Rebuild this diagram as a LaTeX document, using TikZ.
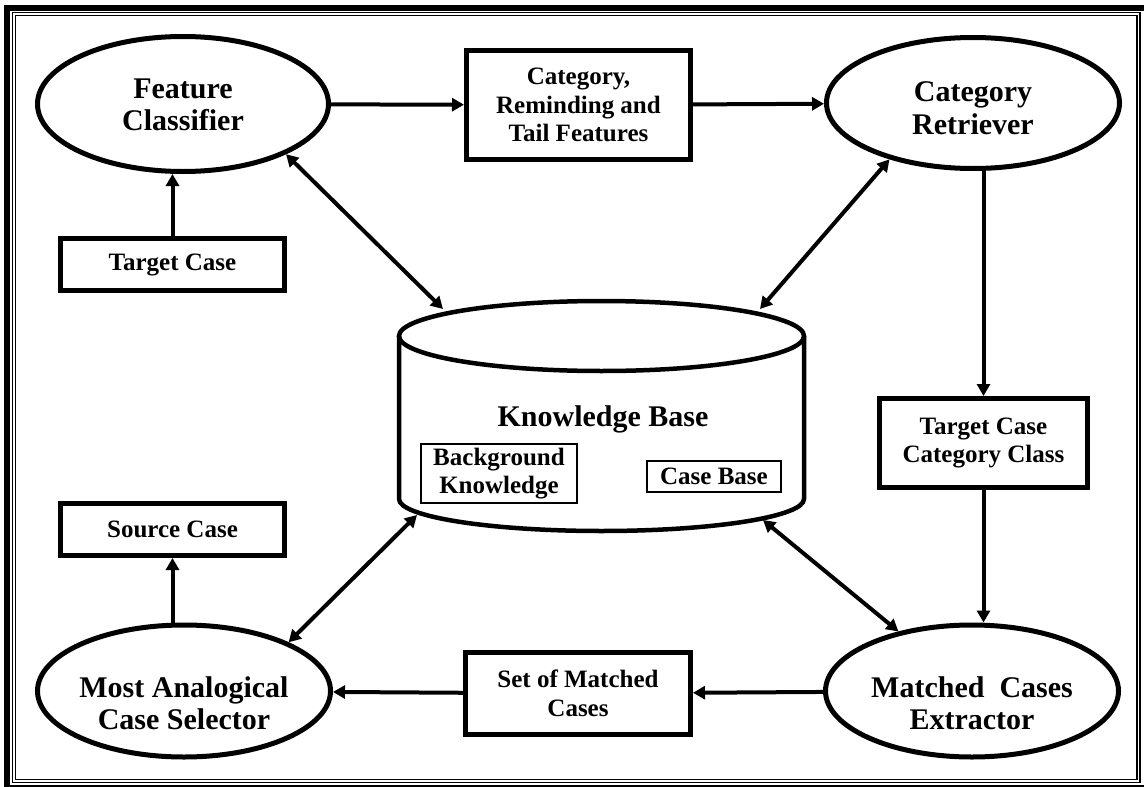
\documentclass[tikz,border=0pt]{standalone}
\usepackage{fontspec}
\setmainfont{Liberation Serif}
\usetikzlibrary{shapes.geometric,arrows.meta}
\begin{document}
\begin{tikzpicture}[x=1pt,y=-1pt,
  ell/.style={draw, ellipse, line width=5pt, inner sep=0pt},
  etext/.style={font=\bfseries\fontsize{30}{32.5}\selectfont, align=center, inner sep=0pt},
  bx/.style={draw, rectangle, line width=5pt, inner sep=0pt, align=center, font=\bfseries\fontsize{25}{28.5}\selectfont},
  thinbx/.style={draw, rectangle, line width=2pt, inner sep=0pt, align=center, font=\bfseries\fontsize{25}{28.5}\selectfont},
  arr/.style={line width=4pt, -{Triangle[length=12pt,width=13pt]}},
  darr/.style={line width=4pt, {Triangle[length=12pt,width=13pt]}-{Triangle[length=12pt,width=13pt]}},
]
\useasboundingbox (0,0) rectangle (1144,787);
% frame
\draw[line width=6pt] (7,8) rectangle (1150,788);
\draw[line width=1.3pt] (12.5,12.5) rectangle (1140,782.5);
\draw[line width=1.3pt] (15.5,15.5) rectangle (1137,779.5);

% ellipses
\node[ell, minimum width=291pt, minimum height=135pt] (FC) at (183,104) {};
\node[etext] (FCt) at (183,105) {Feature\\Classifier};
\node[ell, minimum width=293pt, minimum height=131pt] (CR) at (973,103) {};
\node[etext] (CRt) at (973,108) {Category\\Retriever};
\node[ell, minimum width=293pt, minimum height=132pt] (MAS) at (184,691) {};
\node[etext] (MASt) at (184,703) {Most Analogical\\Case Selector};
\node[ell, minimum width=293pt, minimum height=132pt] (MCE) at (972,691) {};
\node[etext] (MCEt) at (972,703) {Matched~ Cases\\Extractor};

% boxes
\node[bx, minimum width=224pt, minimum height=109pt] (CRT) at (578.5,105) {Category,\\Reminding and\\Tail Features};
\node[bx, minimum width=224pt, minimum height=52pt] (TC) at (172.5,264.5) {Target Case};
\node[bx, minimum width=208pt, minimum height=89pt] (TCCC) at (983.5,443) {Target Case\\Category Class};
\node[bx, minimum width=225pt, minimum height=82pt] (SMC) at (578,693.5) {Set of Matched\\Cases};
\node[bx, minimum width=224pt, minimum height=52pt] (SC) at (172.5,529.5) {Source Case};

% cylinder
\draw[line width=4.5pt] (601.5,336) ellipse [x radius=202.5pt, y radius=35pt];
\draw[line width=4.5pt, line join=round] (399,336) -- (399,499)
   arc[start angle=180, end angle=360, x radius=202.5pt, y radius=32pt] -- (804,336);
\node[etext] (KB) at (603,419) {Knowledge Base};
\node[thinbx, minimum width=156pt, minimum height=59pt] (BK) at (499,473.5) {Background\\Knowledge};
\node[thinbx, minimum width=134pt, minimum height=31pt] (CB) at (714,476.5) {Case Base};
\coordinate (kbTL) at (443,309);
\coordinate (kbTR) at (760,309);
\coordinate (kbBL) at (417,515);
\coordinate (kbBR) at (763,520);

% connectors
\draw[arr] (FC) -- (CRT);
\draw[arr] (CRT) -- (CR);
\draw[arr] (TC.north) -- (TC.north |- FC.south);
\draw[darr] (FC.-26) -- (kbTL);
\draw[darr] (CR.-146) -- (kbTR);
\draw[arr] (TCCC.north |- CR.south) -- (TCCC.north);
\draw[arr] (TCCC.south) -- (TCCC.south |- MCE.north);
\draw[darr] (MCE.141) -- (kbBR);
\draw[darr] (MAS.25) -- (kbBL);
\draw[arr] (MCE) -- (SMC);
\draw[arr] (SMC) -- (MAS);
\draw[arr] (SC.south |- MAS.north) -- (SC.south);
\end{tikzpicture}
\end{document}
